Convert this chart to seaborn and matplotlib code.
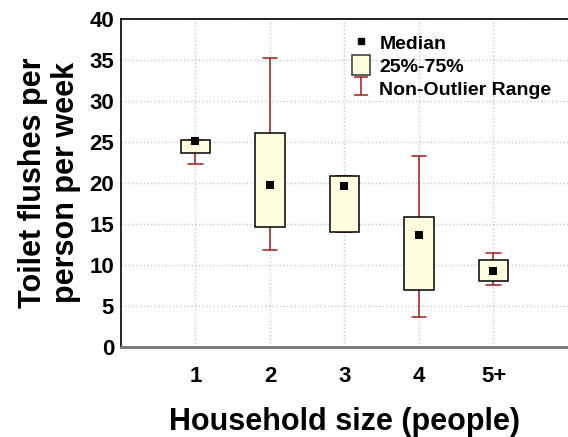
import numpy as np
import pandas as pd
import seaborn as sns
import matplotlib.pyplot as plt
from matplotlib.lines import Line2D
from matplotlib.patches import Patch
from matplotlib.path import Path

# --- datos ---
sizes = ['1', '2', '3', '4', '5+']
whisker_low = [22.3, 11.8, 14.0, 3.7, 7.6]
q25 = [23.6, 14.6, 14.0, 7.0, 8.1]
medians = [25.1, 19.7, 19.6, 13.6, 9.2]
q75 = [25.2, 26.1, 20.9, 15.9, 10.6]
whisker_high = [25.2, 35.2, 20.9, 23.3, 11.4]

# cinco puntos por grupo -> los cuartiles salen exactos
rows = []
for i, s in enumerate(sizes):
    for v in (whisker_low[i], q25[i], medians[i], q75[i], whisker_high[i]):
        rows.append({'size': s, 'flushes': v})
df = pd.DataFrame(rows)

red = '#a11d1d'
box_fill = '#ffffe0'

sns.set_style('white')
plt.rcParams['font.family'] = ['Liberation Sans', 'DejaVu Sans']
plt.rcParams['font.weight'] = 'bold'
plt.rcParams['text.color'] = 'black'
plt.rcParams['xtick.color'] = 'black'
plt.rcParams['ytick.color'] = 'black'
plt.rcParams['axes.labelcolor'] = 'black'

fig = plt.figure(figsize=(5.68, 4.37), dpi=100)
ax = fig.add_axes([0.213, 0.206, 0.787, 0.751])

sns.boxplot(data=df, x='size', y='flushes', order=sizes, whis=np.inf, width=0.4,
            color=box_fill, linecolor='black', linewidth=1.1, ax=ax,
            boxprops={'facecolor': box_fill, 'edgecolor': 'black'},
            medianprops={'linewidth': 0},
            whiskerprops={'color': red, 'linewidth': 1.1},
            capprops={'color': red, 'linewidth': 1.1})
for p in ax.patches:
    p.set_zorder(3)

sns.stripplot(x=sizes, y=medians, order=sizes, jitter=False, marker='s',
              color='black', size=5.5, ax=ax, zorder=4)

ax.set_xlim(-1, 5)
ax.set_ylim(0, 40)
ax.set_yticks(np.arange(0, 41, 5))
ax.grid(True, color='#c8c8c8', linestyle=':', linewidth=1)
ax.set_axisbelow(True)

ax.tick_params(axis='y', length=0, pad=5, labelsize=16)
ax.tick_params(axis='x', length=3, pad=11, labelsize=16, direction='out')
for lab in ax.get_xticklabels() + ax.get_yticklabels():
    lab.set_fontweight('bold')

for side in ['left', 'top']:
    ax.spines[side].set_color('black')
    ax.spines[side].set_linewidth(1.2)
ax.spines['bottom'].set_color('#777777')
ax.spines['bottom'].set_linewidth(2)
ax.spines['right'].set_visible(False)

ax.set_xlabel('Household size (people)', fontsize=22, fontweight='bold', labelpad=14)
ax.set_ylabel('Toilet flushes per\nperson per week', fontsize=22, fontweight='bold',
              labelpad=6, linespacing=1.15)

# leyenda
ibar = Path([(-0.8, -1), (0.8, -1), (0, -1), (0, 1), (-0.8, 1), (0.8, 1)],
            [Path.MOVETO, Path.LINETO, Path.MOVETO, Path.LINETO, Path.MOVETO, Path.LINETO])
handles = [
    Line2D([], [], marker='s', color='black', linestyle='none', markersize=5),
    Patch(facecolor=box_fill, edgecolor='#333333', linewidth=1.1),
    Line2D([], [], marker=ibar, color=red, markerfacecolor='none', linestyle='none',
           markersize=13, markeredgewidth=1.1),
]
ax.legend(handles, ['Median', '25%-75%', 'Non-Outlier Range'], loc='upper left',
          bbox_to_anchor=(0.478, 1.012), frameon=False, handlelength=0.9,
          handleheight=1.2, handletextpad=0.5, labelspacing=0.12,
          prop={'size': 14, 'weight': 'bold'})

fig.savefig('out.png', dpi=100)
